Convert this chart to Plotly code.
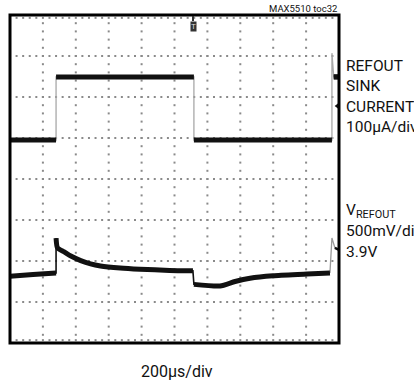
import numpy as np
import plotly.graph_objects as go

# ---- data (time in microseconds, amplitude in screen divisions) ----
cur_t = [0, 280, 280, 1118, 1118, 1957, 1957, 1968, 2000]
cur_v = [4.95, 4.95, 6.49, 6.49, 4.95, 4.95, 7.07, 6.49, 6.49]

volt_t = [0, 140, 280, 280, 289, 330, 370, 430, 490, 550, 670, 790, 970, 1112,
          1118, 1277, 1368, 1459, 1599, 1805, 1945, 1957, 1975, 2000]
volt_v = [1.63, 1.67, 1.71, 2.56, 2.32, 2.22, 2.12, 2.01, 1.93, 1.88, 1.83, 1.80,
          1.77, 1.76, 1.43, 1.39, 1.50, 1.58, 1.64, 1.68, 1.71, 2.56, 2.32, 2.27]

x_divs = 10
y_divs = 8
us_per_div = 200

title_text = "MAX5510 toc32"
x_label = "200µs/div"
ch1_label = ["REFOUT", "SINK", "CURRENT", "100µA/div"]
ch2_label = ["V<sub>REFOUT</sub>", "500mV/div", "3.9V"]

W, H = 414, 383
# plot box in page pixels
L, R, T, B = 10, 339, 15, 343
FONT = "Roboto, Liberation Sans, Arial"


def px(x):
    return (x - L) / (R - L)


def py(y):
    return (B - y) / (B - T)


def thick_segments(t, v, breaks):
    tt, vv = [], []
    for i, (a, b) in enumerate(zip(t, v)):
        if i in breaks:
            tt.append(None)
            vv.append(None)
        tt.append(a)
        vv.append(b)
    return tt, vv


fig = go.Figure()

# grid dots (oscilloscope graticule)
gx, gy = [], []
minor_x = np.arange(0, x_divs * us_per_div + 1, us_per_div / 5)
minor_y = np.arange(0, y_divs + 0.001, 0.2)
for r in range(1, y_divs):
    gx += list(minor_x)
    gy += [r] * len(minor_x)
for c in range(1, x_divs):
    gx += [c * us_per_div] * len(minor_y)
    gy += list(minor_y)
for r in (0.07, y_divs - 0.07):
    gx += list(minor_x)
    gy += [r] * len(minor_x)
fig.add_trace(go.Scatter(x=gx, y=gy, mode="markers",
                         marker=dict(symbol="square", size=2, color="#8a8a8a",
                                     line=dict(width=0)),
                         hoverinfo="skip", showlegend=False))

# current trace: thin grey edges + thick black levels
fig.add_trace(go.Scatter(x=cur_t, y=cur_v, mode="lines",
                         line=dict(color="#a8a8a8", width=1.3),
                         showlegend=False, hoverinfo="skip"))
ct, cv = thick_segments(cur_t, cur_v, {2, 4, 6, 7})
fig.add_trace(go.Scatter(x=ct, y=cv, mode="lines",
                         line=dict(color="#111", width=5),
                         showlegend=False, hoverinfo="skip"))
fig.add_trace(go.Scatter(x=cur_t[7:], y=cur_v[7:], mode="lines",
                         line=dict(color="#111", width=5),
                         showlegend=False, hoverinfo="skip"))

# voltage trace
fig.add_trace(go.Scatter(x=volt_t[:21], y=volt_v[:21], mode="lines",
                         line=dict(color="#111", width=1.6),
                         showlegend=False, hoverinfo="skip"))
fig.add_trace(go.Scatter(x=volt_t[20:], y=volt_v[20:], mode="lines",
                         line=dict(color="#999", width=1.3),
                         showlegend=False, hoverinfo="skip"))
vt, vv = thick_segments(volt_t[:21], volt_v[:21], {3, 14})
fig.add_trace(go.Scatter(x=vt, y=vv, mode="lines",
                         line=dict(color="#111", width=5, shape="spline", smoothing=0.6),
                         showlegend=False, hoverinfo="skip"))
fig.add_trace(go.Scatter(x=volt_t[22:], y=volt_v[22:], mode="lines",
                         line=dict(color="#111", width=2.5),
                         showlegend=False, hoverinfo="skip"))

# channel reference marker on right edge
fig.add_trace(go.Scatter(x=[x_divs * us_per_div - 8], y=[5.78], mode="markers",
                         marker=dict(symbol="triangle-left", size=6, color="#111"),
                         showlegend=False, hoverinfo="skip", cliponaxis=False))

fig.update_xaxes(range=[0, x_divs * us_per_div], showgrid=False, zeroline=False,
                 showticklabels=False, ticks="", showline=False, fixedrange=True)
fig.update_yaxes(range=[0, y_divs], showgrid=False, zeroline=False,
                 showticklabels=False, ticks="", showline=False, fixedrange=True)

shapes = [dict(type="rect", xref="paper", yref="paper", x0=0, x1=1, y0=0, y1=1,
               line=dict(color="#000", width=3), fillcolor="rgba(0,0,0,0)", layer="above")]

ann = []


def add_text(text, x, y, size, xanchor="left", yanchor="middle"):
    ann.append(dict(text=text, x=px(x), y=py(y), xref="paper", yref="paper",
                    xanchor=xanchor, yanchor=yanchor, showarrow=False,
                    font=dict(family=FONT, size=size, color="#111")))


for i, s in enumerate(ch1_label):
    add_text(s, 344, 66 + 20.3 * i, 15.5)
for i, s in enumerate(ch2_label):
    add_text(s, 344, 211 + 20.3 * i, 15.5)
add_text(x_label, 177, 371, 16, xanchor="center")
add_text(title_text, 339, 9, 9.5, xanchor="right")

# trigger marker
ann.append(dict(text="T", x=px(193), y=py(26), xref="paper", yref="paper",
                xanchor="center", yanchor="middle", showarrow=False,
                bgcolor="#333", borderpad=0,
                font=dict(family="Liberation Sans", size=8, color="#ddd")))
shapes.append(dict(type="line", xref="paper", yref="paper", x0=px(193), x1=px(193),
                   y0=py(16), y1=py(21), line=dict(color="#333", width=2)))

fig.update_layout(width=W, height=H, margin=dict(l=L, r=W - R, t=T, b=H - B),
                  paper_bgcolor="white", plot_bgcolor="white",
                  shapes=shapes, annotations=ann)

fig.write_html("out.html", config={"displayModeBar": False},
               post_script="document.body.style.margin='0px';")
